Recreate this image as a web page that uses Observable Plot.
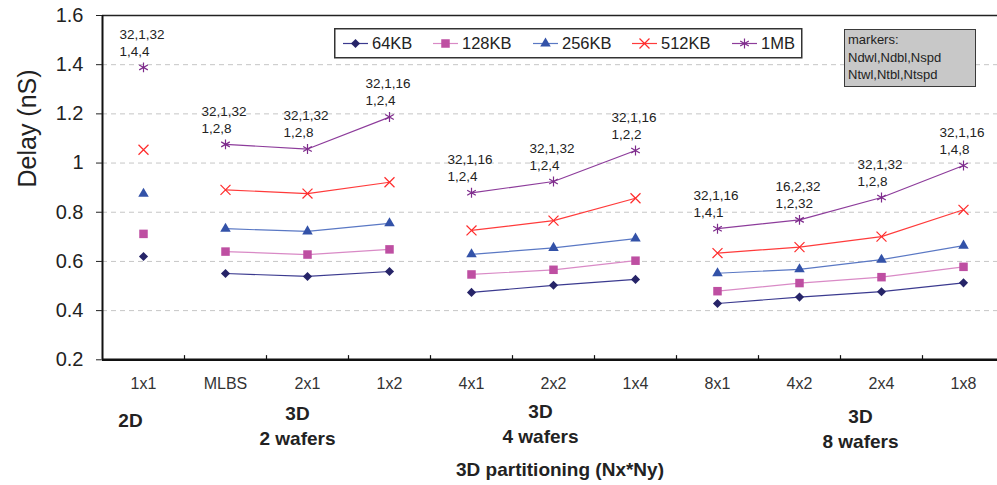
<!DOCTYPE html>
<html><head><meta charset="utf-8">
<script src="https://cdn.jsdelivr.net/npm/d3@7"></script>
<script src="https://cdn.jsdelivr.net/npm/@observablehq/plot@0.6"></script>
<style>
body{margin:0;background:#fff;font-family:"Liberation Sans",Arial,sans-serif;}
#wrap{position:relative;width:997px;height:485px;overflow:hidden;background:#fff;}
#legend{position:absolute;left:334px;top:28px;}
#note{position:absolute;left:844px;top:29px;width:127px;height:55px;background:#c8c8c8;border:1.5px solid #3a3a3a;
  font-size:13px;line-height:17.5px;color:#222;padding:1px 0 0 3px;white-space:nowrap;}
</style></head><body><div id="wrap"></div>
<script>
const categories = ["1x1","MLBS","2x1","1x2","4x1","2x2","1x4","8x1","4x2","2x4","1x8"];
const groupOf = ["2D","2 wafers","2 wafers","2 wafers","4 wafers","4 wafers","4 wafers","8 wafers","8 wafers","8 wafers","8 wafers"];
const seriesNames = ["64KB","128KB","256KB","512KB","1MB"];
const delay64KB  = [0.620,0.551,0.539,0.559,0.474,0.503,0.527,0.429,0.455,0.477,0.513];
const delay128KB = [0.712,0.640,0.628,0.649,0.547,0.566,0.603,0.479,0.512,0.536,0.578];
const delay256KB = [0.875,0.733,0.722,0.755,0.629,0.655,0.693,0.552,0.568,0.607,0.664];
const delay512KB = [1.054,0.891,0.876,0.922,0.726,0.766,0.857,0.634,0.658,0.701,0.810];
const delay1MB   = [1.389,1.076,1.057,1.187,0.879,0.925,1.051,0.733,0.769,0.860,0.990];
const labelTop    = ["32,1,32","32,1,32","32,1,32","32,1,16","32,1,16","32,1,32","32,1,16","32,1,16","16,2,32","32,1,32","32,1,16"];
const labelBottom = ["1,4,4","1,2,8","1,2,8","1,2,4","1,2,4","1,2,4","1,2,2","1,4,1","1,2,32","1,2,8","1,4,8"];
const yTicks = [0.2,0.4,0.6,0.8,1,1.2,1.4,1.6];
const groupNames = ["2D","2 wafers","4 wafers","8 wafers"];
const groupTexts = ["2D","3D\n2 wafers","3D\n4 wafers","3D\n8 wafers"];
const yTitle = "Delay (nS)";
const xTitle = "3D partitioning (Nx*Ny)";
const markerNote = ["markers:","Ndwl,Ndbl,Nspd","Ntwl,Ntbl,Ntspd"];

const values = {"64KB":delay64KB,"128KB":delay128KB,"256KB":delay256KB,"512KB":delay512KB,"1MB":delay1MB};
const styles = {
  "64KB":  {symbol:"diamond2", d3s:d3.symbolDiamond2, r:4.1, fill:"#262468", stroke:"none", line:"#3b3a8f"},
  "128KB": {symbol:"square",   d3s:d3.symbolSquare,   r:4.8, fill:"#be4fa2", stroke:"none", line:"#d98ac6"},
  "256KB": {symbol:"triangle", d3s:d3.symbolTriangle, r:3.9, fill:"#3352a8", stroke:"none", line:"#5a78c4"},
  "512KB": {symbol:"times",    d3s:d3.symbolTimes,    r:4.6, fill:"none", stroke:"#ff2b2b", line:"#ff3b3b"},
  "1MB":   {symbol:"asterisk", d3s:d3.symbolAsterisk, r:4.7, fill:"none", stroke:"#7e2c8c", line:"#8d3c9b"}
};

const rows = seriesNames.flatMap(s => values[s].map((v,i) => ({series:s, i, cat:categories[i], group:groupOf[i], v})));

const lineMarks = seriesNames.map(s => Plot.line(rows.filter(d => d.series===s), {
  x:"i", y:"v", z:"group", stroke: styles[s].line, strokeWidth:1.2}));
const dotMarks = seriesNames.map(s => Plot.dot(rows.filter(d => d.series===s), {
  x:"i", y:"v", symbol: styles[s].symbol, r: styles[s].r,
  fill: styles[s].fill, stroke: styles[s].stroke, strokeWidth: styles[s].stroke==="none" ? 0 : 1.2}));

const mbRows = rows.filter(d => d.series==="1MB");
const groupCenters = groupNames.map(g => d3.mean(categories.map((c,i)=>i).filter(i => groupOf[i]===g)));
const groupDx = [-13,-10,-13,20];
const groupDy = [60,65,63,68];

const chart = Plot.plot({
  width: 997, height: 485,
  marginLeft: 102, marginRight: 0, marginTop: 15, marginBottom: 126,
  style: {fontFamily:"'Liberation Sans', Arial, sans-serif", color:"#222", background:"transparent", overflow:"visible"},
  x: {type:"linear", domain:[-0.5,10.5], range:[102,1004], axis:null},
  y: {domain:[0.2,1.6], range:[359.3,15], axis:null},
  marks: [
    Plot.ruleY(yTicks.filter(t => t>0.2 && t<1.6), {stroke:"#c6c6c6", strokeDasharray:"5,4", strokeWidth:1}),
    ...lineMarks,
    ...dotMarks,
    Plot.ruleY([1.6], {stroke:"#222", strokeWidth:1.5}),
    Plot.ruleY([0.2], {stroke:"#111", strokeWidth:2.5}),
    Plot.ruleX([-0.5], {stroke:"#111", strokeWidth:2}),
    Plot.ruleX(d3.range(0.5, 10, 1), {y1:0.2, y2:0.217, stroke:"#111", strokeWidth:1.2}),
    Plot.axisY({ticks:yTicks, tickSize:6, tickPadding:13, tickFormat:d => String(d), fontSize:20, stroke:"#222", label:null}),
    Plot.axisX({ticks:d3.range(categories.length), tickSize:0, tickPadding:18, tickFormat:i => categories[i], fontSize:16, fill:"#333", label:null}),
    Plot.text([yTitle], {frameAnchor:"left", rotate:-90, dx:-75, fontSize:25, fill:"#222"}),
    Plot.text(mbRows, {x:"i", y:"v", text:d => labelTop[d.i], textAnchor:"start", dx:-24, dy:-33, fontSize:13.5, fill:"#222"}),
    Plot.text(mbRows, {x:"i", y:"v", text:d => labelBottom[d.i], textAnchor:"start", dx:-24, dy:-16, fontSize:13.5, fill:"#222"}),
    ...groupTexts.map((t,k) => Plot.text([t], {x:[groupCenters[k]], text:d => d, frameAnchor:"bottom", lineAnchor:"middle",
      dx:groupDx[k], dy:groupDy[k], fontWeight:"bold", fontSize:19, lineHeight:1.29, fill:"#222"})),
    Plot.text([xTitle], {frameAnchor:"bottom", lineAnchor:"middle", dx:10, dy:110, fontWeight:"bold", fontSize:19, fill:"#222"})
  ]
});
const wrap = document.getElementById("wrap");
wrap.appendChild(chart);

// legend (series key)
const lg = d3.select(wrap).append("svg").attr("id","legend").attr("width",469).attr("height",31);
lg.append("rect").attr("x",0.75).attr("y",0.75).attr("width",467).attr("height",29)
  .attr("fill","#fff").attr("stroke","#333").attr("stroke-width",1.5);
const itemX = [9, 99, 199, 298, 398];
seriesNames.forEach((s,k) => {
  const st = styles[s], x0 = itemX[k];
  const g = lg.append("g").attr("transform", `translate(${x0},15.5)`);
  g.append("line").attr("x1",0).attr("x2",25).attr("stroke",st.line).attr("stroke-width",1.2);
  g.append("path").attr("transform","translate(12.5,0)")
    .attr("d", d3.symbol(st.d3s, st.r*st.r*Math.PI)())
    .attr("fill", st.fill).attr("stroke", st.stroke).attr("stroke-width", st.stroke==="none"?0:1.2);
  g.append("text").attr("x",29).attr("y",0).attr("dy","0.35em").attr("font-size",16.5)
    .attr("font-family","'Liberation Sans', Arial, sans-serif").attr("fill","#222").text(s);
});

// marker note box
const note = d3.select(wrap).append("div").attr("id","note");
markerNote.forEach(t => note.append("div").text(t));
</script>
</body></html>
